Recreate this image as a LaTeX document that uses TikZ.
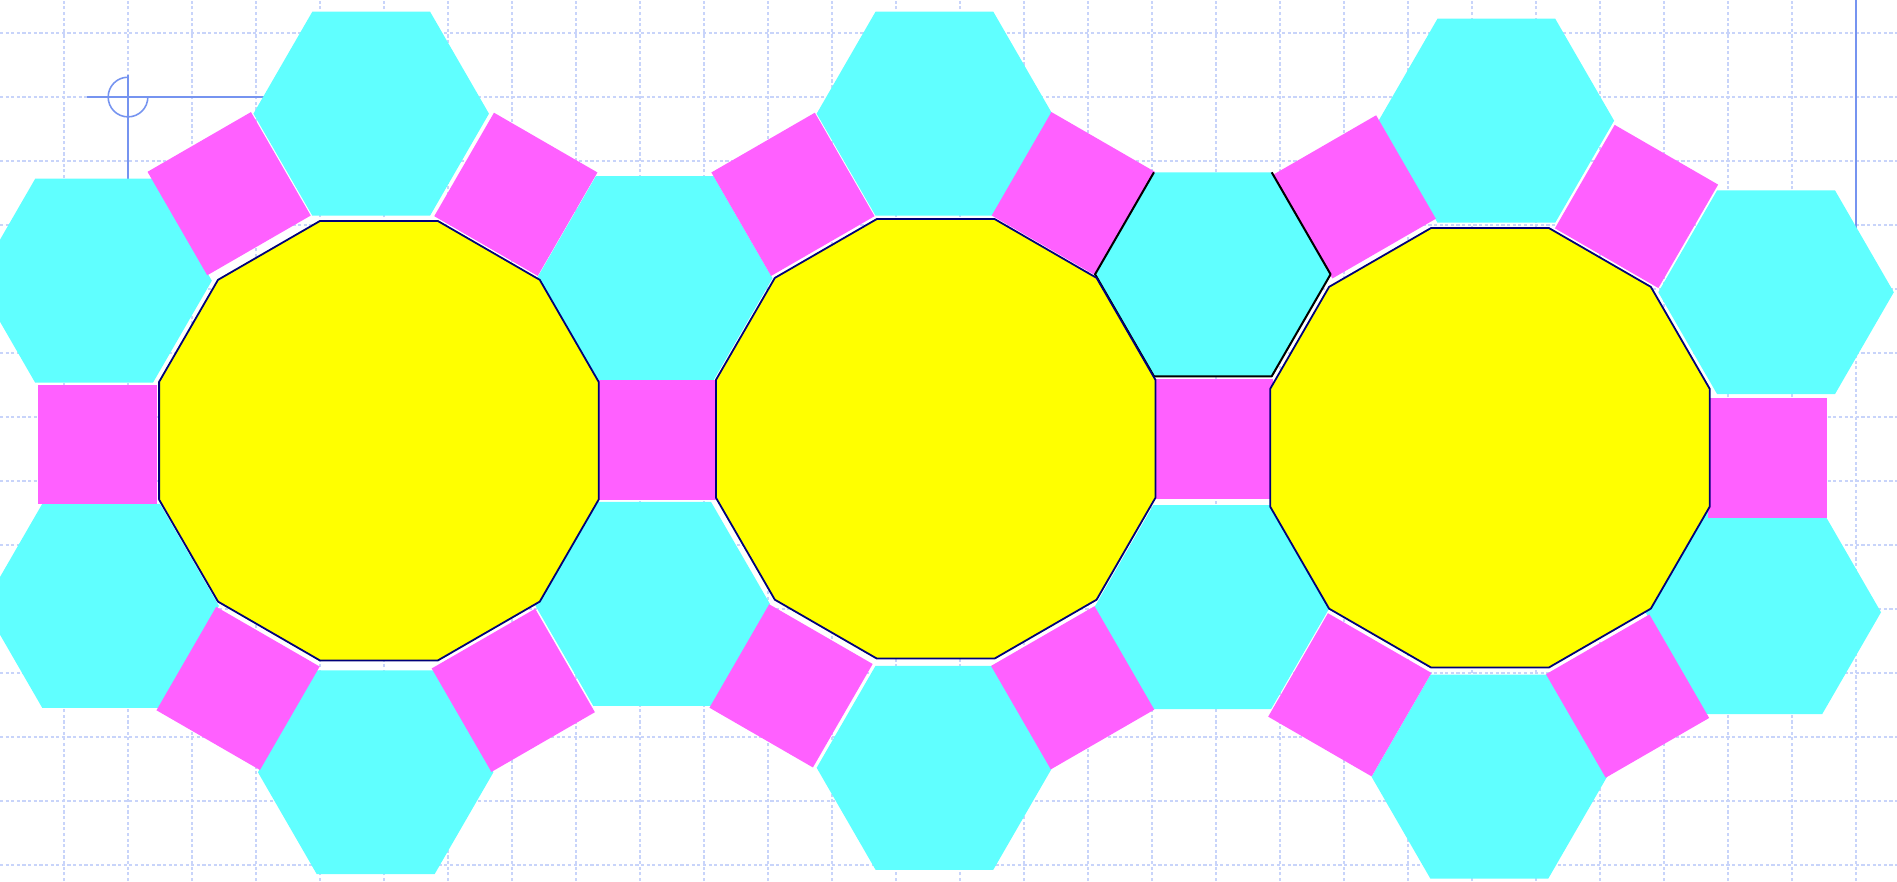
\documentclass[tikz,border=0pt]{standalone}
\definecolor{GridBlue}{RGB}{200,212,250}
\definecolor{AxisBlue}{RGB}{118,148,240}
\definecolor{HexCyan}{RGB}{96,255,255}
\definecolor{QuadPink}{RGB}{255,96,255}
\definecolor{DodYellow}{RGB}{255,255,0}
\definecolor{DodNavy}{RGB}{0,0,120}
\newcommand{\hexr}{1.84}
\newcommand{\quadr}{1.32}
\newcommand{\dodr}{3.555}
\newcommand{\hexcell}[1]{\fill[hexa,shift={(#1)}] (0:\hexr) -- (60:\hexr) -- (120:\hexr) -- (180:\hexr) -- (240:\hexr) -- (300:\hexr) -- cycle;}
\newcommand{\quadcell}[2]{\fill[quad,shift={(#1)}] (#2:\quadr) -- (#2+90:\quadr) -- (#2+180:\quadr) -- (#2+270:\quadr) -- cycle;}
\newcommand{\dodcell}[1]{\filldraw[dodeca,shift={(#1)}] (15:\dodr) \foreach \k in {45,75,...,345}{ -- (\k:\dodr)} -- cycle;}

\begin{document}
\begin{tikzpicture}
  \tikzset{gridline/.style={GridBlue,line width=0.6pt,dash pattern=on 1.4pt off 1.1pt},
    axisline/.style={AxisBlue,line width=0.7pt},
    hexa/.style={fill=HexCyan},
    quad/.style={fill=QuadPink},
    dodeca/.style={fill=DodYellow,draw=DodNavy,line width=0.8pt,line join=round},
    rim/.style={draw=black,line width=0.9pt,line join=round}}
  \useasboundingbox (-2,-12.25) rectangle (27.64,1.516);
  \clip (-2,-12.25) rectangle (27.64,1.516);
  % grid
  \foreach \x in {-1,...,27}{\draw[gridline] (\x,-12.25) -- (\x,1.516);}
  \foreach \y in {-12,...,1}{\draw[gridline] (-2,\y) -- (27.64,\y);}
  % axes
  \coordinate (o) at (0,0);
  \draw[axisline] (o) ++(-0.64,0) -- (3.8,0);
  \draw[axisline] (o) ++(0,0.34) -- (0,-3);
  \draw[axisline] (o) ++(0,0.31) arc[start angle=90,end angle=360,radius=0.31];
  \draw[axisline] (27,1.6) -- (27,-4);
  % centres
  \coordinate (d1) at (3.92,-5.37);
  \coordinate (d2) at (12.62,-5.34);
  \coordinate (d3) at (21.28,-5.48);
  \coordinate (ht1) at (3.80,-0.26);
  \coordinate (ht2) at (12.60,-0.26);
  \coordinate (ht3) at (21.38,-0.37);
  \coordinate (hlu) at (-0.53,-2.87);
  \coordinate (hu12) at (8.23,-2.83);
  \coordinate (hu23) at (16.95,-2.77);
  \coordinate (hru) at (25.75,-3.05);
  \coordinate (hll) at (-0.42,-7.95);
  \coordinate (hl12) at (8.19,-7.92);
  \coordinate (hl23) at (16.94,-7.97);
  \coordinate (hrl) at (25.55,-8.05);
  \coordinate (hb1) at (3.87,-10.55);
  \coordinate (hb2) at (12.60,-10.48);
  \coordinate (hb3) at (21.27,-10.62);
  % hexagons
  \foreach \h in {ht1,ht2,ht3,hlu,hu12,hu23,hru,hll,hl12,hl23,hrl,hb1,hb2,hb3}{\hexcell{\h}}
  % squares
  \quadcell{-0.48,-5.43}{45}
  \quadcell{8.27,-5.36}{45}
  \quadcell{16.95,-5.34}{45}
  \quadcell{25.62,-5.64}{45}
  \foreach \cx/\cy in {1.58/-1.51,10.39/-1.52,19.16/-1.56,6.02/-9.27,14.76/-9.23,23.43/-9.36}{\quadcell{\cx,\cy}{75}}
  \foreach \cx/\cy in {6.06/-1.52,14.77/-1.51,23.57/-1.71,1.72/-9.24,10.36/-9.20,19.09/-9.34}{\quadcell{\cx,\cy}{15}}
  % outlined hexagon
  \draw[rim,shift={(hu23)}] (120:\hexr) -- (180:\hexr) -- (240:\hexr) -- (300:\hexr) -- (0:\hexr) -- (60:\hexr);
  % dodecagons
  \foreach \d in {d1,d2,d3}{\dodcell{\d}}
\end{tikzpicture}
\end{document}
